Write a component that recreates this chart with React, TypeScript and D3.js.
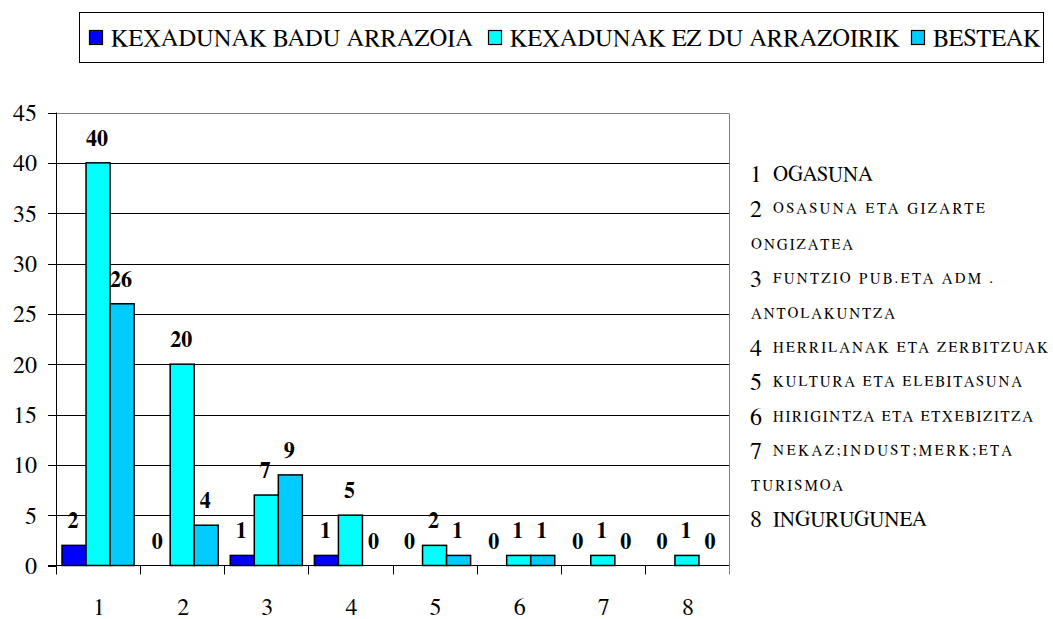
import React from "react";
import * as d3 from "d3";

const categories = ["1", "2", "3", "4", "5", "6", "7", "8"];
const seriesNames = ["KEXADUNAK BADU ARRAZOIA", "KEXADUNAK EZ DU ARRAZOIRIK", "BESTEAK"];
const baduArrazoia = [2, 0, 1, 1, 0, 0, 0, 0];
const ezDuArrazoirik = [40, 20, 7, 5, 2, 1, 1, 1];
const besteak = [26, 4, 9, 0, 1, 1, 0, 0];
const seriesColors = ["#0000FF", "#00FFFF", "#00CCFF"];
const yTicks = [0, 5, 10, 15, 20, 25, 30, 35, 40, 45];

// right-side category description lines
const descNumbers = ["1", "2", "", "3", "", "4", "5", "6", "7", "", "8"];
const descTexts = [
  "OGASUNA",
  "OSASUNA ETA GIZARTE",
  "ONGIZATEA",
  "FUNTZIO PUB.ETA ADM .",
  "ANTOLAKUNTZA",
  "HERRILANAK ETA ZERBITZUAK",
  "KULTURA ETA ELEBITASUNA",
  "HIRIGINTZA ETA ETXEBIZITZA",
  "NEKAZ;INDUST;MERK;ETA",
  "TURISMOA",
  "INGURUGUNEA",
];
const descBig = [true, false, false, false, false, false, false, false, false, false, true];
const descEndX = [873, 985, 853, 993, 895, 1048, 1022, 1033, 1012, 843, 927];
const descY = [173, 208, 244, 278, 313, 347, 381, 416, 450, 485, 518];

export default function App() {
  const W = 1053;
  const H = 619;
  const left = 56;
  const right = 729;
  const top = 112.5;
  const bottom = 565.5;

  const data = [baduArrazoia, ezDuArrazoirik, besteak];

  const x = d3.scaleBand().domain(categories).range([left, right]).paddingInner(0).paddingOuter(0);
  const xs = d3.scaleBand().domain(seriesNames).range([0, x.bandwidth()]).paddingInner(0).paddingOuter(0.25);
  const y = d3.scaleLinear().domain([0, 45]).range([bottom, top]);

  const legendX = [89, 488, 911];
  const ff = { fontFamily: `"FreeSerif", "Liberation Serif", serif` };

  return (
    <svg width={W} height={H} style={{ position: "absolute", left: 0, top: 0, fontFamily: `"FreeSerif", serif` }}>
      <rect x={0} y={0} width={W} height={H} fill="#fff" />
      {/* Legend */}
      <rect x={79.5} y={12.5} width={964} height={50} fill="#fff" stroke="#000" strokeWidth={1} />
      {seriesNames.map((s, i) => (
        <g key={s}>
          <rect x={legendX[i] + 0.5} y={30.5} width={13} height={14} fill={seriesColors[i]} stroke="#000" strokeWidth={1.2} />
          <text x={legendX[i] + 22} y={45.5} fontSize={24.5} fill="#000" style={ff}>
            {s}
          </text>
        </g>
      ))}

      {/* Gridlines */}
      {yTicks.map((t) =>
        t === 0 ? null : (
          <line
            key={"g" + t}
            x1={left}
            x2={right}
            y1={Math.round(y(t)) + 0.5}
            y2={Math.round(y(t)) + 0.5}
            stroke={t === 45 ? "#808080" : "#000"}
            strokeWidth={1}
          />
        )
      )}
      <line x1={right + 0.5} x2={right + 0.5} y1={Math.round(top) + 0.5} y2={bottom + 9} stroke="#808080" strokeWidth={1} />

      {/* Bars */}
      {data.map((vals, si) =>
        vals.map((v, ci) => {
          const bx = x(categories[ci]) + xs(seriesNames[si]);
          const by = y(v);
          return v > 0 ? (
            <rect
              key={`b${si}-${ci}`}
              x={bx}
              y={by}
              width={xs.bandwidth()}
              height={y(0) - by}
              fill={seriesColors[si]}
              stroke="#000"
              strokeWidth={1.5}
            />
          ) : null;
        })
      )}

      {/* Value labels */}
      {data.map((vals, si) =>
        vals.map((v, ci) => {
          const cx = x(categories[ci]) + xs(seriesNames[si]) + xs.bandwidth() / 2 - 1;
          return (
            <text key={`l${si}-${ci}`} x={cx} y={y(v) - 17} textAnchor="middle" fontSize={22} fontWeight="bold" fill="#000" style={ff}>
              {v}
            </text>
          );
        })
      )}

      {/* Y axis */}
      <line x1={left + 0.5} x2={left + 0.5} y1={top} y2={bottom + 9} stroke="#000" strokeWidth={1} />
      {yTicks.map((t) => (
        <g key={"yt" + t}>
          <line x1={left - 8} x2={left} y1={Math.round(y(t)) + 0.5} y2={Math.round(y(t)) + 0.5} stroke="#000" strokeWidth={1} />
          <text x={37} y={y(t)} dy="0.36em" textAnchor="end" fontSize={24} fill="#000" style={ff}>
            {t}
          </text>
        </g>
      ))}
      {/* X axis */}
      <line x1={left - 8} x2={right} y1={bottom} y2={bottom} stroke="#000" strokeWidth={1.2} />
      {categories.map((c, i) => (
        <g key={"xt" + c}>
          {i > 0 ? (
            <line x1={Math.round(x(c)) + 0.5} x2={Math.round(x(c)) + 0.5} y1={bottom} y2={bottom + 9} stroke="#000" strokeWidth={1} />
          ) : null}
          <text x={x(c) + x.bandwidth() / 2 + 1} y={615} textAnchor="middle" fontSize={24} fill="#000" style={ff}>
            {c}
          </text>
        </g>
      ))}

      {/* Category descriptions */}
      {descTexts.map((t, i) => {
        const hasNum = descNumbers[i] !== "";
        const tx = hasNum ? 773 : 751;
        return (
          <g key={"d" + i}>
            {hasNum ? (
              <text x={750} y={descY[i]} dy="0.36em" fontSize={24} fill="#000" style={ff}>
                {descNumbers[i]}
              </text>
            ) : null}
            <text
              x={tx}
              y={descY[i]}
              dy="0.36em"
              fontSize={descBig[i] ? 22 : 15}
              textLength={descEndX[i] - tx}
              lengthAdjust={descBig[i] ? "spacingAndGlyphs" : "spacing"}
              fill="#000"
              style={ff}
            >
              {t}
            </text>
          </g>
        );
      })}
    </svg>
  );
}
